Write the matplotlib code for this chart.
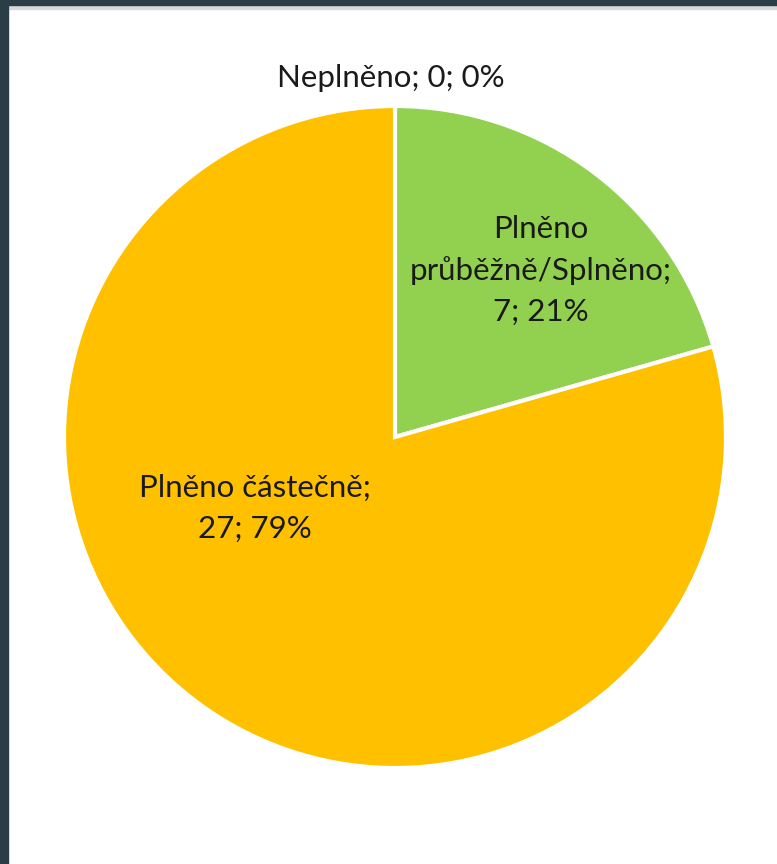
import matplotlib
matplotlib.use("Agg")
import matplotlib.pyplot as plt
from matplotlib.patches import Rectangle

# data
categories = ["Neplněno", "Plněno\nprůběžně/Splněno", "Plněno částečně"]
values = [0, 7, 27]
colors = ["#4472C4", "#92D050", "#FFC000"]

W, H = 777, 864
CX, CY, R = 395, H - 437, 331

fig = plt.figure(figsize=(W / 100, H / 100), dpi=100)
fig.patch.set_facecolor("white")
ax = fig.add_axes([0, 0, 1, 1])

ax.pie(values, colors=colors, startangle=90, counterclock=False,
       center=(CX, CY), radius=R,
       wedgeprops=dict(edgecolor="white", linewidth=3))

# pie() resets the view, so set the pixel-like limits afterwards
ax.set_xlim(0, W)
ax.set_ylim(0, H)
ax.set_aspect("equal")
ax.axis("off")

total = sum(values)
labels = [f"{c};\n{v}; {round(100 * v / total)}%" for c, v in zip(categories, values)]
labels[0] = labels[0].replace(";\n", "; ")

font = dict(family=["Lato", "DejaVu Sans"], fontsize=22.5, color="#1a1a1a",
            ha="center", va="center", linespacing=1.55)
ax.text(391, H - 78, labels[0], **font)
ax.text(541, H - 270, labels[1], **font)
ax.text(255, H - 508, labels[2], **font)

# dark window frame on the left and top edges
ax.add_patch(Rectangle((0, 0), 8, H, color="#2B3D47", zorder=5, clip_on=False))
ax.add_patch(Rectangle((0, H - 5), W, 5, color="#2B3D47", zorder=5, clip_on=False))
ax.add_patch(Rectangle((8, H - 9), W, 4, color="#DADADA", zorder=4, clip_on=False))

fig.savefig("out.png", dpi=100, facecolor="white")
